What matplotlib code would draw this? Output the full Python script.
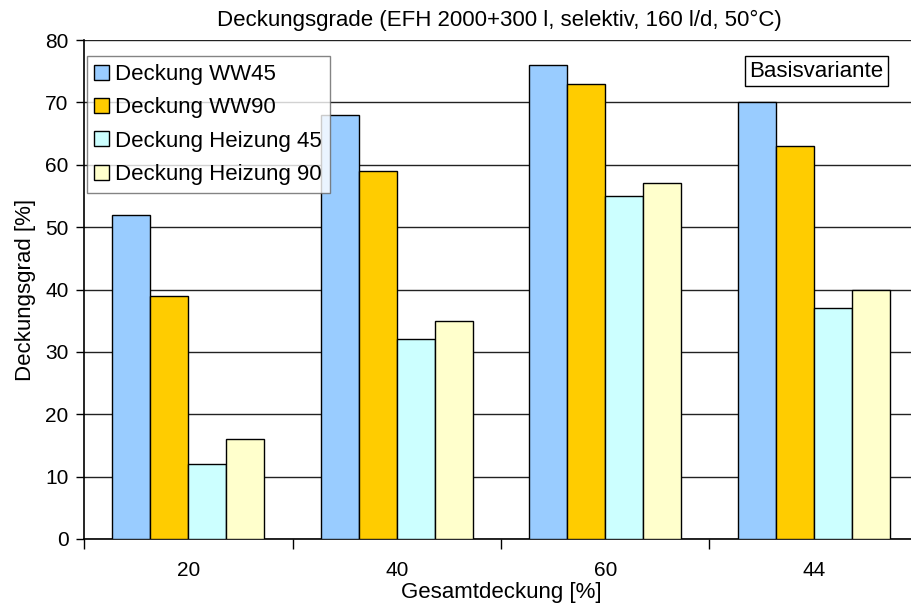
import matplotlib
matplotlib.use("Agg")
import matplotlib.pyplot as plt
import numpy as np

plt.rcParams['font.family'] = ['Liberation Sans', 'DejaVu Sans']

categories = ["20", "40", "60", "44"]
ww45 = [52, 68, 76, 70]
ww90 = [39, 59, 73, 63]
heiz45 = [12, 32, 55, 37]
heiz90 = [16, 35, 57, 40]

series = [
    ("Deckung WW45", ww45, "#99CCFF"),
    ("Deckung WW90", ww90, "#FFCC00"),
    ("Deckung Heizung 45", heiz45, "#CCFFFF"),
    ("Deckung Heizung 90", heiz90, "#FFFFCC"),
]

fig = plt.figure(figsize=(9.11, 6.06), dpi=100)
ax = fig.add_axes([84 / 911, 67 / 606, 834 / 911, 499 / 606])

x = np.arange(len(categories))
w = 1 / 5.5
for i, (name, vals, col) in enumerate(series):
    ax.bar(x + (i - 1.5) * w, vals, w, color=col, edgecolor="black",
           linewidth=1.0, label=name, zorder=3)

ax.set_xlim(-0.5, len(categories) - 0.5)
ax.set_ylim(0, 80)
ax.set_yticks(range(0, 81, 10))
ax.yaxis.grid(True, color="#222222", linewidth=1.0, zorder=0)

ax.set_xticks(x)
ax.set_xticklabels(categories)
ax.set_xticks(np.arange(-0.5, len(categories) - 0.5, 1), minor=True)
ax.tick_params(axis="x", which="major", length=0, pad=16, labelsize=15)
ax.tick_params(axis="x", which="minor", length=7, width=1, direction="out")
ax.tick_params(axis="y", length=6, width=1, direction="out", labelsize=15, pad=5)

for s in ["top", "right"]:
    ax.spines[s].set_visible(False)
for s in ["left", "bottom"]:
    ax.spines[s].set_linewidth(1.2)

ax.set_title("Deckungsgrade (EFH 2000+300 l, selektiv, 160 l/d, 50°C)",
             fontsize=16, pad=10, x=0.498)
ax.set_xlabel("Gesamtdeckung [%]", fontsize=16, labelpad=1)
ax.set_ylabel("Deckungsgrad [%]", fontsize=16, labelpad=7)

leg = ax.legend(loc="upper left", bbox_to_anchor=(0.003, 0.967), fontsize=16,
                frameon=True, fancybox=False, edgecolor="#666666",
                handlelength=0.65, handleheight=0.65, handletextpad=0.3,
                labelspacing=0.55, borderpad=0.35, borderaxespad=0)
leg.get_frame().set_linewidth(1.0)

ax.text(0.878, 0.937, "Basisvariante", transform=ax.transAxes, ha="center",
        va="center", fontsize=16,
        bbox=dict(boxstyle="square,pad=0.2", facecolor="white",
                  edgecolor="black", linewidth=1.0))

fig.savefig("out.png", dpi=100)
